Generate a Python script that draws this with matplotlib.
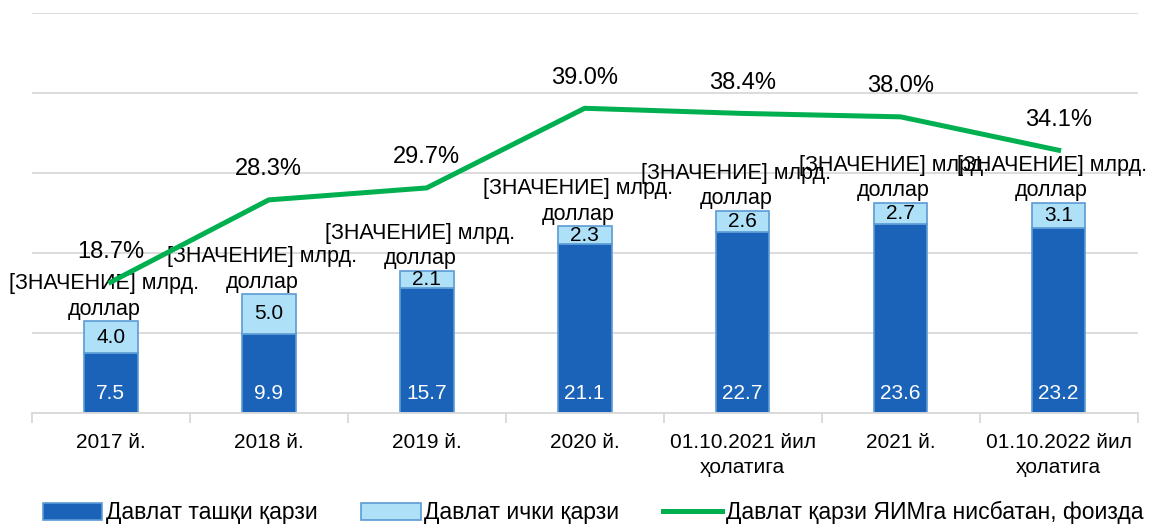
import numpy as np
import matplotlib
matplotlib.use("Agg")
import matplotlib.pyplot as plt
from matplotlib.patches import Patch
from matplotlib.lines import Line2D

plt.rcParams["font.family"] = ["Liberation Sans", "DejaVu Sans"]

# ---- data ----
categories = ["2017 й.", "2018 й.", "2019 й.", "2020 й.",
              "01.10.2021 йил\nҳолатига", "2021 й.", "01.10.2022 йил\nҳолатига"]
external_debt = [7.5, 9.9, 15.7, 21.1, 22.7, 23.6, 23.2]
internal_debt = [4.0, 5.0, 2.1, 2.3, 2.6, 2.7, 3.1]
debt_to_gdp = [18.7, 28.3, 29.7, 39.0, 38.4, 38.0, 34.1]
total_label = "[ЗНАЧЕНИЕ] млрд.\nдоллар"
legend_labels = ["Давлат ташқи қарзи", "Давлат ички қарзи",
                 "Давлат қарзи ЯИМга нисбатан, фоизда"]

DARK = "#1A63B8"
LIGHT = "#AEE0F8"
EDGE = "#5B9BD5"
GREEN = "#00B050"
FS = 15

fig = plt.figure(figsize=(11.74, 5.29), dpi=100)
ax = fig.add_axes([0.027, 0.219, 0.942, 0.756])
ax2 = ax.twinx()

x = np.arange(len(categories))
w = 0.34
ext = np.array(external_debt)
inn = np.array(internal_debt)

ax.bar(x, ext, w, color=DARK, edgecolor=EDGE, linewidth=1.2, zorder=2)
ax.bar(x, inn, w, bottom=ext, color=LIGHT, edgecolor=EDGE, linewidth=1.2, zorder=2)

for xi, e, i in zip(x, ext, inn):
    ax.annotate(f"{e:.1f}", (xi, 0), xytext=(0, 7), textcoords="offset points",
                ha="center", va="bottom", color="white", fontsize=FS, zorder=3)
    ax.text(xi, e + i / 2, f"{i:.1f}", ha="center", va="center",
            color="black", fontsize=FS, zorder=3)
    ax.annotate(total_label, (xi, e + i), xytext=(-5, 1), textcoords="offset points",
                ha="center", va="bottom", fontsize=FS + 0.5, linespacing=1.3,
                multialignment="center", zorder=3)

ax.set_ylim(0, 50)
ax.set_xlim(-0.5, len(categories) - 0.5)
ax.set_yticks(np.arange(0, 51, 10))
ax.yaxis.grid(True, color="#D9D9D9", linewidth=1.3, zorder=0)
ax.set_axisbelow(True)
ax.tick_params(axis="y", left=False, labelleft=False)
ax.set_xticks(x)
ax.set_xticklabels(categories, fontsize=FS, linespacing=1.45)
ax.tick_params(axis="x", which="major", length=0, pad=14)
ax.set_xticks(np.arange(-0.5, len(categories), 1), minor=True)
ax.tick_params(axis="x", which="minor", length=7, color="#D9D9D9", width=1.3)
for s in ["left", "right", "top"]:
    ax.spines[s].set_visible(False)
    ax2.spines[s].set_visible(False)
ax.spines["bottom"].set_color("#D9D9D9")
ax.spines["bottom"].set_linewidth(1.3)
ax2.spines["bottom"].set_visible(False)

ax2.plot(x, debt_to_gdp, color=GREEN, linewidth=3.6, zorder=4)
ax2.set_ylim(3.4, 50.1)
ax2.tick_params(axis="y", right=False, labelright=False)
for xi, v in zip(x, debt_to_gdp):
    ax2.annotate(f"{v:.1f}%", (xi, v), xytext=(0, 14), textcoords="offset points",
                 ha="center", va="bottom", fontsize=FS + 2)

handles = [Patch(facecolor=DARK, edgecolor=EDGE, linewidth=1.2),
           Patch(facecolor=LIGHT, edgecolor=EDGE, linewidth=1.2),
           Line2D([0], [0], color=GREEN, linewidth=3.6)]
fig.legend(handles, legend_labels, loc="lower center", ncol=3, frameon=False,
           fontsize=FS + 1.5, bbox_to_anchor=(0.505, -0.03), handlelength=2.6,
           handleheight=0.75, handletextpad=0.15, columnspacing=1.9)

fig.savefig("out.png", dpi=100)
